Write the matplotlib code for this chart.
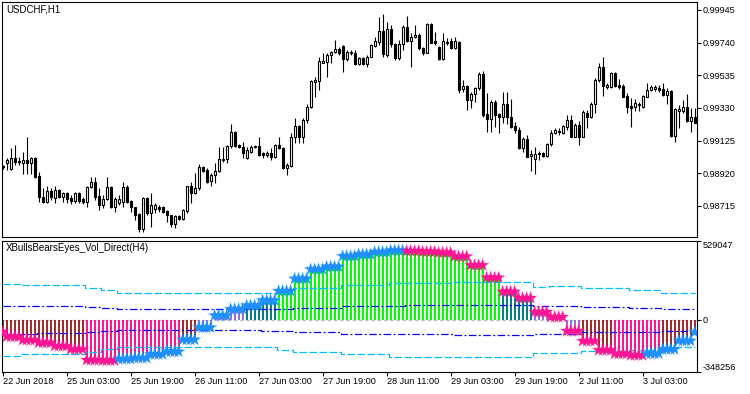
import matplotlib
matplotlib.use("agg")
import matplotlib.pyplot as plt
import numpy as np

# USDCHF H1 candles, 22 Jun 2018 11:00 .. 3 Jul 2018 16:00
opens = [0.98960, 0.98987, 0.98945, 0.99014, 0.98993, 0.98987, 0.99004, 0.98987, 0.99014, 0.98903,
         0.98774, 0.98738, 0.98811, 0.98763, 0.98816, 0.98770, 0.98795, 0.98763, 0.98747, 0.98795,
         0.98757, 0.98742, 0.98832, 0.98868, 0.98778, 0.98721, 0.98757, 0.98832, 0.98707, 0.98736,
         0.98738, 0.98832, 0.98747, 0.98707, 0.98663, 0.98569, 0.98763, 0.98669, 0.98694, 0.98707,
         0.98707, 0.98684, 0.98655, 0.98602, 0.98652, 0.98631, 0.98686, 0.98837, 0.98795, 0.98826,
         0.98958, 0.98941, 0.98874, 0.98910, 0.98937, 0.99004, 0.99008, 0.99092, 0.99182, 0.99098,
         0.99088, 0.99014, 0.99056, 0.99083, 0.99092, 0.99046, 0.99035, 0.99050, 0.99021, 0.99098,
         0.99081, 0.98951, 0.98968, 0.99150, 0.99217, 0.99150, 0.99255, 0.99334, 0.99495, 0.99500,
         0.99615, 0.99621, 0.99663, 0.99680, 0.99700, 0.99721, 0.99636, 0.99673, 0.99673, 0.99604,
         0.99642, 0.99604, 0.99652, 0.99721, 0.99747, 0.99813, 0.99663, 0.99824, 0.99732, 0.99642,
         0.99732, 0.99841, 0.99753, 0.99774, 0.99788, 0.99705, 0.99677, 0.99857, 0.99753, 0.99715,
         0.99636, 0.99747, 0.99753, 0.99705, 0.99747, 0.99447, 0.99468, 0.99380, 0.99416, 0.99454,
         0.99544, 0.99292, 0.99259, 0.99370, 0.99292, 0.99272, 0.99355, 0.99276, 0.99217, 0.99192,
         0.99077, 0.99134, 0.99029, 0.99008, 0.99042, 0.99050, 0.99029, 0.99104, 0.99171, 0.99182,
         0.99171, 0.99213, 0.99255, 0.99150, 0.99224, 0.99150, 0.99297, 0.99272, 0.99355, 0.99506,
         0.99590, 0.99460, 0.99460, 0.99552, 0.99475, 0.99468, 0.99406, 0.99343, 0.99334, 0.99349,
         0.99334, 0.99401, 0.99443, 0.99452, 0.99458, 0.99447, 0.99412, 0.99439, 0.99154, 0.99313,
         0.99313, 0.99339, 0.99251, 0.99276]
highs = [0.98975, 0.99014, 0.99077, 0.99098, 0.99025, 0.99056, 0.99150, 0.99021, 0.99021, 0.98931,
         0.98826, 0.98837, 0.98826, 0.98837, 0.98820, 0.98805, 0.98805, 0.98784, 0.98805, 0.98805,
         0.98774, 0.98837, 0.98899, 0.98899, 0.98826, 0.98784, 0.98899, 0.98837, 0.98774, 0.98784,
         0.98868, 0.98847, 0.98753, 0.98711, 0.98669, 0.98774, 0.98774, 0.98799, 0.98732, 0.98721,
         0.98715, 0.98690, 0.98659, 0.98659, 0.98657, 0.98694, 0.98841, 0.98868, 0.98924, 0.98979,
         0.98966, 0.98951, 0.98924, 0.98983, 0.99088, 0.99088, 0.99098, 0.99230, 0.99188, 0.99104,
         0.99119, 0.99088, 0.99098, 0.99098, 0.99150, 0.99056, 0.99062, 0.99077, 0.99104, 0.99150,
         0.99088, 0.98983, 0.99171, 0.99265, 0.99224, 0.99265, 0.99355, 0.99506, 0.99523, 0.99652,
         0.99673, 0.99673, 0.99690, 0.99757, 0.99715, 0.99726, 0.99694, 0.99694, 0.99694, 0.99648,
         0.99648, 0.99663, 0.99732, 0.99778, 0.99903, 0.99920, 0.99872, 0.99851, 0.99736, 0.99757,
         0.99851, 0.99908, 0.99799, 0.99851, 0.99799, 0.99715, 0.99862, 0.99862, 0.99809, 0.99719,
         0.99799, 0.99767, 0.99767, 0.99778, 0.99753, 0.99506, 0.99475, 0.99433, 0.99460, 0.99558,
         0.99564, 0.99422, 0.99380, 0.99380, 0.99297, 0.99433, 0.99433, 0.99385, 0.99244, 0.99213,
         0.99150, 0.99161, 0.99067, 0.99088, 0.99062, 0.99056, 0.99113, 0.99192, 0.99203, 0.99203,
         0.99224, 0.99286, 0.99286, 0.99234, 0.99251, 0.99318, 0.99318, 0.99370, 0.99516, 0.99615,
         0.99648, 0.99485, 0.99558, 0.99558, 0.99510, 0.99481, 0.99422, 0.99391, 0.99385, 0.99370,
         0.99412, 0.99485, 0.99475, 0.99475, 0.99475, 0.99489, 0.99454, 0.99443, 0.99328, 0.99349,
         0.99380, 0.99416, 0.99328, 0.99328]
lows = [0.98949, 0.98941, 0.98941, 0.98972, 0.98972, 0.98916, 0.98916, 0.98916, 0.98889, 0.98742,
        0.98732, 0.98732, 0.98753, 0.98736, 0.98763, 0.98742, 0.98732, 0.98728, 0.98732, 0.98732,
        0.98728, 0.98711, 0.98826, 0.98753, 0.98690, 0.98701, 0.98753, 0.98701, 0.98680, 0.98721,
        0.98711, 0.98732, 0.98680, 0.98627, 0.98554, 0.98554, 0.98659, 0.98585, 0.98673, 0.98680,
        0.98669, 0.98617, 0.98585, 0.98579, 0.98627, 0.98627, 0.98669, 0.98732, 0.98790, 0.98816,
        0.98931, 0.98862, 0.98837, 0.98857, 0.98931, 0.98993, 0.98987, 0.99077, 0.99088, 0.99077,
        0.99014, 0.99008, 0.99050, 0.99077, 0.99029, 0.99014, 0.99025, 0.99004, 0.99014, 0.99071,
        0.98945, 0.98910, 0.98962, 0.99108, 0.99108, 0.99108, 0.99234, 0.99328, 0.99401, 0.99443,
        0.99610, 0.99527, 0.99610, 0.99673, 0.99663, 0.99558, 0.99627, 0.99663, 0.99600, 0.99600,
        0.99600, 0.99590, 0.99648, 0.99715, 0.99726, 0.99652, 0.99652, 0.99715, 0.99631, 0.99631,
        0.99694, 0.99747, 0.99590, 0.99767, 0.99694, 0.99663, 0.99673, 0.99736, 0.99726, 0.99631,
        0.99631, 0.99726, 0.99698, 0.99698, 0.99426, 0.99433, 0.99318, 0.99328, 0.99370, 0.99443,
        0.99272, 0.99182, 0.99182, 0.99213, 0.99175, 0.99234, 0.99230, 0.99203, 0.99175, 0.99071,
        0.99056, 0.99025, 0.98937, 0.98914, 0.99004, 0.99021, 0.99025, 0.99092, 0.99167, 0.99161,
        0.99167, 0.99192, 0.99146, 0.99146, 0.99098, 0.99146, 0.99203, 0.99265, 0.99297, 0.99495,
        0.99406, 0.99447, 0.99454, 0.99460, 0.99447, 0.99397, 0.99301, 0.99213, 0.99313, 0.99313,
        0.99328, 0.99397, 0.99439, 0.99439, 0.99433, 0.99406, 0.99355, 0.99150, 0.99119, 0.99203,
        0.99297, 0.99244, 0.99182, 0.99234]
closes = [0.98964, 0.99004, 0.99014, 0.98993, 0.98995, 0.99004, 0.98987, 0.99014, 0.98899, 0.98774,
          0.98738, 0.98811, 0.98770, 0.98816, 0.98770, 0.98795, 0.98757, 0.98747, 0.98795, 0.98749,
          0.98742, 0.98832, 0.98868, 0.98774, 0.98721, 0.98757, 0.98832, 0.98707, 0.98757, 0.98757,
          0.98832, 0.98738, 0.98707, 0.98659, 0.98569, 0.98763, 0.98669, 0.98721, 0.98721, 0.98698,
          0.98680, 0.98655, 0.98602, 0.98652, 0.98631, 0.98690, 0.98837, 0.98795, 0.98826, 0.98958,
          0.98937, 0.98868, 0.98910, 0.98937, 0.99008, 0.99010, 0.99092, 0.99182, 0.99092, 0.99088,
          0.99046, 0.99067, 0.99088, 0.99092, 0.99035, 0.99035, 0.99050, 0.99021, 0.99098, 0.99077,
          0.98951, 0.98972, 0.99150, 0.99217, 0.99150, 0.99255, 0.99339, 0.99500, 0.99506, 0.99625,
          0.99625, 0.99663, 0.99680, 0.99700, 0.99673, 0.99636, 0.99684, 0.99684, 0.99604, 0.99642,
          0.99604, 0.99652, 0.99726, 0.99751, 0.99813, 0.99667, 0.99824, 0.99730, 0.99642, 0.99732,
          0.99836, 0.99753, 0.99778, 0.99788, 0.99705, 0.99677, 0.99857, 0.99740, 0.99736, 0.99636,
          0.99751, 0.99740, 0.99705, 0.99751, 0.99443, 0.99468, 0.99380, 0.99416, 0.99454, 0.99544,
          0.99286, 0.99259, 0.99370, 0.99286, 0.99272, 0.99355, 0.99272, 0.99213, 0.99192, 0.99077,
          0.99134, 0.99025, 0.99039, 0.99042, 0.99050, 0.99029, 0.99104, 0.99171, 0.99192, 0.99188,
          0.99217, 0.99255, 0.99150, 0.99224, 0.99150, 0.99303, 0.99272, 0.99355, 0.99506, 0.99590,
          0.99468, 0.99475, 0.99552, 0.99468, 0.99464, 0.99401, 0.99339, 0.99328, 0.99360, 0.99355,
          0.99406, 0.99443, 0.99460, 0.99460, 0.99443, 0.99412, 0.99439, 0.99154, 0.99322, 0.99322,
          0.99339, 0.99251, 0.99276, 0.99238]

# XBullsBearsEyes_Vol_Direct on H4: one value per H4 bar (first one is partial)
h4_values = [-79400, -112700, -134800, -152800, -174800, -196800, -268200, -271500, -261500, -254800,
             -230200, -212800, -132800, -51400, 28700, 72100, 95400, 130100, 192100, 274200,
             336900, 354200, 425600, 437000, 452300, 462300, 459000, 454300, 447600, 422300,
             364200, 280900, 187500, 145400, 52000, 18700, -74700, -141400, -202800, -226200,
             -236200, -226100, -196800, -140100, -82700]
# -2 strong bears, -1 bears, 0 flat, 1 bulls, 2 strong bulls
h4_state = [-1, -1, -1, -1, -1, -1, -2, -2, -2, -2,
            -2, -2, -1, 0, 0, 0, 1, 1, 2, 2,
            2, 2, 2, 2, 2, 2, 2, 2, 2, 2,
            2, 2, 1, 1, 0, 0, 0, -1, -1, -2,
            -2, -2, -1, -1, -1]
outer_level = [239000, 239000, 229000, 229000, 229000, 229000, 215000, 197000, 180000, 180000,
               180000, 180000, 180000, 180000, 180000, 180000, 180000, 181000, 199000, 214000,
               214000, 214000, 230000, 230000, 230000, 245000, 245000, 245000, 245000, 250000,
               250000, 250000, 250000, 250000, 222000, 223000, 223000, 209000, 209000, 209000,
               200000, 200000, 180000, 180000, 180000]
inner_level = [93400, 93400, 93400, 89000, 89000, 89000, 84700, 78000, 70700, 70700,
               70700, 69000, 69000, 69000, 69000, 69000, 69000, 75000, 75000, 80700,
               80700, 80700, 93700, 93700, 93700, 93700, 96000, 96000, 96000, 98400,
               98400, 98400, 98400, 98400, 93400, 93400, 93400, 84400, 84400, 84400,
               78700, 78700, 74400, 74400, 74400]

time_labels = ['22 Jun 2018', '25 Jun 03:00', '25 Jun 19:00', '26 Jun 11:00', '27 Jun 03:00',
               '27 Jun 19:00', '28 Jun 11:00', '29 Jun 03:00', '29 Jun 19:00', '2 Jul 11:00',
               '3 Jul 03:00']
price_ticks = [0.98715, 0.98920, 0.99125, 0.99330, 0.99535, 0.99740, 0.99945]
ind_min, ind_max = -348256, 529047

o = np.array(opens); h = np.array(highs); l = np.array(lows); c = np.array(closes)
n = len(c)
x = np.arange(n)
# which H4 bar each H1 bar belongs to
grp = np.where(x == 0, 0, (x - 1) // 4 + 1)
vals = np.array(h4_values)[grp]
outer = np.array(outer_level)[grp]
inner = np.array(inner_level)[grp]

palette = {-2: '#FF1493', -1: '#A52A2A', 0: '#9370DB', 1: '#008080', 2: '#00FF00'}
hist_colors = [palette[h4_state[g]] for g in grp]
rising = np.concatenate([[False], np.diff(h4_values) > 0])
star_colors = ['#1E90FF' if rising[g] else '#FF1493' for g in grp]

plt.rcParams['font.family'] = ['Liberation Sans', 'DejaVu Sans']

W, H = 750, 394
fig = plt.figure(figsize=(W / 100, H / 100), dpi=100)
ax1 = fig.add_axes([2 / W, 1 - 237 / H, 695 / W, 235 / H])
ax2 = fig.add_axes([2 / W, 1 - 372 / H, 695 / W, 131.5 / H])
xmin, xmax = -0.15, 173.6

# price candles
ax1.vlines(x, l, h, color='black', lw=0.8, zorder=2)
body = np.maximum(np.abs(c - o), 1e-6)
fills = ['white' if cc >= oo else 'black' for oo, cc in zip(o, c)]
ax1.bar(x, body, bottom=np.minimum(o, c), width=0.55, color=fills, edgecolor='black',
        linewidth=0.8, zorder=3)
ax1.set_xlim(xmin, xmax)
ax1.set_ylim(0.98520, 0.99995)
ax1.set_xticks([])
ax1.yaxis.tick_right()
ax1.set_yticks(price_ticks)
ax1.set_yticklabels(['%.5f' % p for p in price_ticks])
ax1.tick_params(axis='y', direction='out', length=2.8, width=0.8, pad=1.5, labelsize=6.6)
ax1.text(4 / 695, 1 - 7 / 235, 'USDCHF,H1', transform=ax1.transAxes, fontsize=7,
         va='center', ha='left')

# indicator window
ax2.axhline(0, color='#C0C0C0', lw=0.9, ls=(0, (3, 2)), zorder=0.5)
ax2.bar(x, vals, width=0.5, color=hist_colors, zorder=1)
for sgn in (1, -1):
    ax2.plot(x, sgn * outer, color='#00BFFF', lw=0.9, ls=(0, (6, 2)),
             drawstyle='steps-mid', zorder=2)
    ax2.plot(x, sgn * inner, color='#0000FF', lw=0.9, ls=(0, (6, 2, 1.5, 2)),
             drawstyle='steps-mid', zorder=2)
# soft halo then the stars themselves
ax2.scatter(x, vals, marker='*', s=130, c=star_colors, alpha=0.25, linewidths=0, zorder=3.5)
ax2.scatter(x, vals, marker='*', s=85, c=star_colors, linewidths=0, zorder=4)
ax2.set_xlim(xmin, xmax)
ax2.set_ylim(ind_min, ind_max)
ax2.yaxis.tick_right()
ax2.set_yticks([ind_min, 0, ind_max])
ax2.set_yticklabels([str(ind_min), '0', str(ind_max)])
ylabs = ax2.get_yticklabels()
ylabs[0].set_va('bottom')
ylabs[2].set_va('top')
ax2.tick_params(axis='y', direction='out', length=2.8, width=0.8, pad=1.5, labelsize=6.6)
ax2.set_xticks(np.arange(len(time_labels)) * 16)
ax2.set_xticklabels(time_labels)
for t in ax2.get_xticklabels():
    t.set_ha('left')
ax2.tick_params(axis='x', direction='out', length=3, width=0.8, pad=0.5, labelsize=6.6)
ax2.text(4 / 695, 1 - 7.5 / 131.5, 'XBullsBearsEyes_Vol_Direct(H4)', transform=ax2.transAxes,
         fontsize=7, va='center', ha='left')

for ax in (ax1, ax2):
    for s in ax.spines.values():
        s.set_linewidth(0.8)
        s.set_color('black')

fig.savefig('out.png', dpi=100, facecolor='white')
